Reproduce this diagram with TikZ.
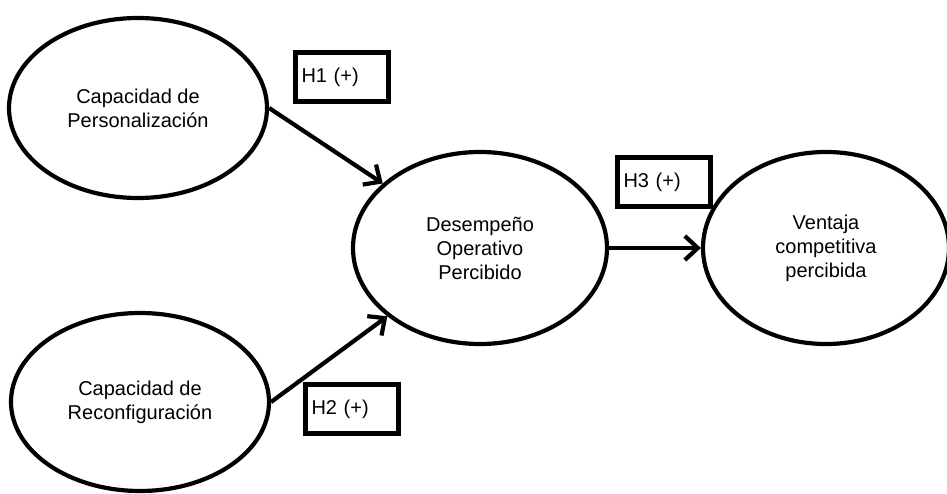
\documentclass[tikz,border=0pt]{standalone}
\usepackage{fontspec}
\setmainfont{Liberation Sans}
\usetikzlibrary{shapes.geometric,arrows.meta}
\begin{document}
\begin{tikzpicture}[x=1pt,y=-1pt,line width=4.2pt,
    font=\fontsize{20}{24}\selectfont,
    latente/.style={draw,ellipse,inner sep=0pt,align=center},
    hipo/.style={draw,line width=4.8pt,rectangle,inner sep=6pt,
      minimum height=49pt,text width=81pt,align=left},
    flecha/.style={-{Straight Barb[length=13pt,width=24pt]}}]
  \useasboundingbox (0,0) rectangle (947,494);
  \node[latente,minimum width=258pt,minimum height=180pt] (pers) at (138,108) {Capacidad de\\Personalización};
  \node[latente,minimum width=258pt,minimum height=178pt] (reconf) at (140,402) {Capacidad de\\Reconfiguración};
  \node[latente,minimum width=254pt,minimum height=192pt] (desemp) at (480,248) {Desempeño\\Operativo\\Percibido};
  \node[latente,minimum width=246pt,minimum height=192pt] (ventaja) at (826,248) {Ventaja\\competitiva\\percibida};
  \draw[flecha] (pers.east)--(desemp);
  \draw[flecha] (reconf.east)--(desemp);
  \draw[flecha] (desemp)--(ventaja);
  \node[hipo] (h1) at (342,77) {H1 (+)};
  \node[hipo] (h2) at (352,409) {H2 (+)};
  \node[hipo] (h3) at (664,182) {H3 (+)};
\end{tikzpicture}
\end{document}
